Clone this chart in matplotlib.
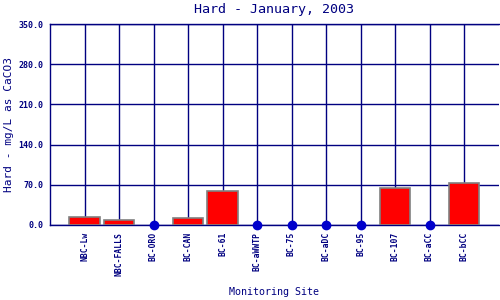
import numpy as np
import matplotlib.pyplot as plt

# dati
siti = ['NBC-Lw', 'NBC-FALLS', 'BC-ORO', 'BC-CAN', 'BC-61', 'BC-aWWTP',
        'BC-75', 'BC-aDC', 'BC-95', 'BC-107', 'BC-aCC', 'BC-bCC']
durezza = [13.5, 8.0, 0.0, 11.5, 58.5, 0.0, 0.0, 0.0, 0.0, 64.0, 0.0, 72.5]
tick_y = [0.0, 70.0, 140.0, 210.0, 280.0, 350.0]

navy = '#000080'
plt.rcParams['font.family'] = 'DejaVu Sans Mono'

fig = plt.figure(figsize=(5, 3), dpi=100)
ax = fig.add_axes([0.1, 0.25, 0.897, 0.67])

x = np.arange(1, len(siti) + 1)
valori = np.array(durezza)
pieni = valori > 0

ax.bar(x[pieni], valori[pieni], width=0.87, color='red', edgecolor='gray',
       linewidth=1.2, zorder=3)
ax.plot(x[~pieni], valori[~pieni], 'o', color='#0000cc', markersize=6,
        zorder=4, clip_on=False)

ax.set_xlim(0, len(siti) + 1)
ax.set_ylim(0, 350)
ax.set_xticks(x)
ax.set_xticklabels(siti, rotation=90, fontsize=5.8, color=navy, weight='bold')
ax.set_yticks(tick_y)
ax.set_yticklabels([f'{v:.1f}' for v in tick_y], fontsize=6, color=navy,
                   weight='bold')
ax.tick_params(length=0, pad=5)

ax.grid(True, color=navy, linewidth=1.0, zorder=0)
ax.set_axisbelow(True)
ax.spines['right'].set_visible(False)
for lato in ['left', 'top', 'bottom']:
    ax.spines[lato].set_color(navy)
    ax.spines[lato].set_linewidth(1.0)

ax.set_title('Hard - January, 2003', fontsize=9.6, color=navy, pad=8)
fig.text(0.018, 0.585, 'Hard - mg/L as CaCO3', rotation=90, fontsize=8,
         color=navy, ha='center', va='center')
ax.set_xlabel('Monitoring Site', fontsize=7.2, color=navy, labelpad=8)

fig.savefig('out.png', dpi=100)
